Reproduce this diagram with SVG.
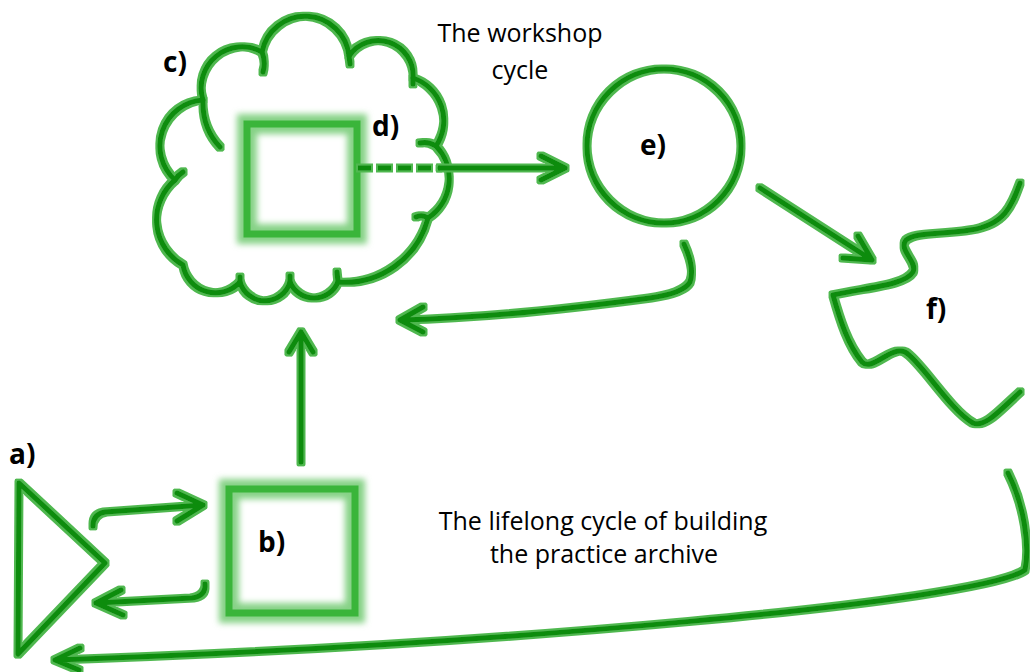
<svg xmlns="http://www.w3.org/2000/svg" width="1030" height="672" viewBox="0 0 1030 672">
<defs>
<filter id="glow" x="-10%" y="-10%" width="120%" height="120%">
<feMorphology in="SourceAlpha" operator="dilate" radius="2" result="d"/>
<feFlood flood-color="#4fb84f"/>
<feComposite in2="d" operator="in" result="g"/>
<feMerge><feMergeNode in="g"/><feMergeNode in="SourceGraphic"/></feMerge>
</filter>
<filter id="soft" x="-20%" y="-20%" width="140%" height="140%">
<feGaussianBlur stdDeviation="3"/>
</filter>
</defs>
<style>
.ln{fill:none;stroke:#0a8c0a;stroke-width:5;stroke-linecap:round;stroke-linejoin:round}
.dash{fill:none;stroke:#0a8c0a;stroke-width:5;stroke-linecap:butt;stroke-dasharray:13 7}
.sqhalo{fill:none;stroke:#86d286;stroke-width:20}
.sq{fill:none;stroke:#3ab53a;stroke-width:7}
.lbl{font-family:"Open Sans","Liberation Sans",sans-serif;font-weight:700;font-size:28px;fill:#000}
.txt{font-family:"Open Sans","Liberation Sans",sans-serif;font-size:25px;fill:#000;text-anchor:middle}
</style>
<rect width="1030" height="672" fill="#fff"/>

<g id="cloud-c" filter="url(#glow)">
<path class="ln" d="M203,100 A41 41 0 0 1 262,52 A44 44 0 0 1 349,56 A35 35 0 0 1 413,78 A45 45 0 0 1 436,146 A47 47 0 0 1 428,218 A86 86 0 0 1 338,282 A26 26 0 0 1 290,282 A26 26 0 0 1 240,282 A33 33 0 0 1 183,265 A52 52 0 0 1 175,180 A46 46 0 0 1 203,100 Z"/>
<path class="ln" d="M203,100 Q202,128 220,147 M262,52 Q266,62 263,72 M349,56 L350,64 M413,78 L413,84 M436,146 Q428,141 420,143 M428,218 Q422,214 416,217 M338,282 L337,272 M290,282 L290,276 M240,282 L240,277 M175,180 Q178,175 183,172"/>
</g>
<text class="lbl" x="163" y="72">c)</text>

<g id="square-d">
<rect class="sqhalo" x="247" y="124" width="110" height="110" filter="url(#soft)"/>
<rect class="sq" x="247" y="124" width="110" height="110"/>
<text class="lbl" x="372" y="136">d)</text>
</g>

<g id="circle-e">
<circle class="ln" cx="664" cy="146" r="77" filter="url(#glow)"/>
<text class="lbl" x="640" y="155">e)</text>
</g>

<g id="squiggle-f">
<path class="ln" filter="url(#glow)" d="M1020,183 C1012,205 1005,225 970,230 C940,235 915,232 906,240 C898,250 918,262 913,272 C905,285 870,287 833,295 C840,320 848,345 862,362 C872,372 890,346 905,352 C920,360 950,410 973,423 C985,428 1000,410 1020,392"/>
<text class="lbl" x="926" y="319">f)</text>
</g>

<g id="triangle-a">
<path class="ln" filter="url(#glow)" d="M19,483 L105,563 L18,654 Z"/>
<text class="lbl" x="9" y="464">a)</text>
</g>

<g id="square-b">
<rect class="sqhalo" x="229" y="489" width="126" height="124" filter="url(#soft)"/>
<rect class="sq" x="229" y="489" width="126" height="124"/>
<text class="lbl" x="258" y="552">b)</text>
</g>

<g id="labels">
<text class="txt" x="520" y="42">The workshop</text>
<text class="txt" x="520" y="79">cycle</text>
<text class="txt" x="603" y="530">The lifelong cycle of building</text>
<text class="txt" x="604" y="563">the practice archive</text>
</g>

<g id="connectors" filter="url(#glow)">
<path class="dash" d="M358,168 L440,168"/>
<path class="ln" d="M440,168 L565,168 M541,156 L565,168 L541,180"/>
<path class="ln" d="M684,244 Q695,268 690,282 Q684,293 650,298 Q500,318 400,320 M423,307 L400,320 L423,332"/>
<path class="ln" d="M301,462 L301,332 M289,352 L301,332 L313,352"/>
<path class="ln" d="M93,526 Q93,514 105,512 L203,505 M177,493 L203,505 L177,521"/>
<path class="ln" d="M205,584 Q206,596 192,598 L96,603 M121,590 L96,603 L123,615"/>
<path class="ln" d="M760,188 L872,260 M858,236 L872,260 L843,258"/>
<path class="ln" d="M1008,473 C1024,505 1030,545 1025,570 C980,602 500,645 55,660 M80,648 L55,660 L79,670"/>
</g>
</svg>
